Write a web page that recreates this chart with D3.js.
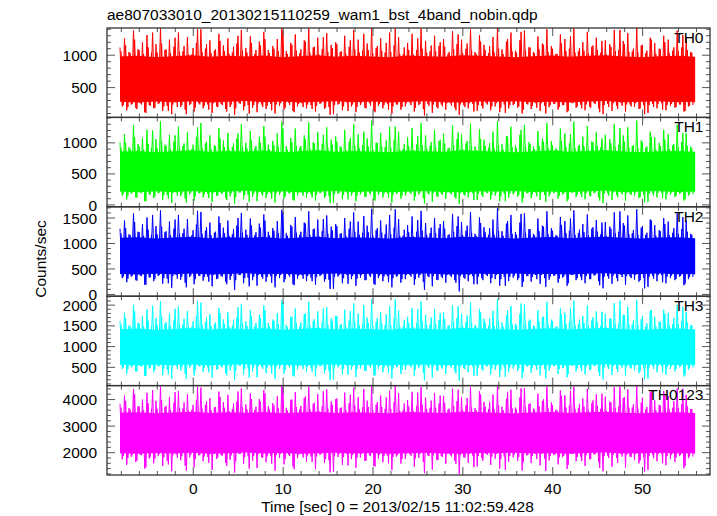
<!DOCTYPE html>
<html><head><meta charset="utf-8">
<script src="https://cdn.jsdelivr.net/npm/d3@7"></script>
<style>
html,body{margin:0;padding:0;background:#fff;}
svg text{font-family:"Liberation Sans",Arial,Helvetica,sans-serif;font-size:15.5px;fill:#000;}
</style></head>
<body>
<svg id="chart" width="717" height="516"></svg>
<script>
// ---- data ----
const title = "ae807033010_20130215110259_wam1_bst_4band_nobin.qdp";
const xLabel = "Time [sec] 0 = 2013/02/15 11:02:59.428";
const yLabel = "Counts/sec";
const bandNames = ["TH0", "TH1", "TH2", "TH3", "TH0123"];
const bandColors = ["#ff0000", "#00ff00", "#0000ff", "#00ffff", "#ff00ff"];
const timeStart = -8.15;   // sec, first bin
const timeStep = 0.25;     // sec between values of one sample set (set B is offset by half a step)
const coreStep = 2;        // sec per point of the dense-core envelope
const xDomain = [-9.6, 57.5];
const xMajorTicks = [0, 10, 20, 30, 40, 50];
const xMinorStep = 2;
const yDomains = [[40, 1420], [-30, 1410], [-35, 1720], [60, 2215], [1160, 4525]];
const yMajorTicks = [[500, 1000], [0, 500, 1000], [0, 500, 1000, 1500], [500, 1000, 1500, 2000], [2000, 3000, 4000]];
const yMinorSteps = [100, 100, 100, 100, 200];

// light-curve excursions (counts/sec), sample set A
const th0 = [
1120,210,1260,150,1050,240,1380,190,1090,260,1200,120,1310,230,1040,180,
1170,250,1420,140,1080,220,1240,90,1130,270,1350,200,1060,160,1280,230,
1010,130,1190,260,1400,180,1100,240,1230,110,1070,210,1330,250,1150,170,
1260,200,1040,80,1180,260,1390,150,1110,230,1290,190,1020,120,1210,240,
1360,170,1080,250,1140,100,1250,220,1420,160,1060,270,1190,140,1320,210,
1030,260,1230,180,1410,230,1120,130,1270,250,1090,170,1340,200,1160,90,
1200,240,1050,150,1300,270,1130,210,1390,120,1240,230,1070,190,1180,260,
1420,140,1110,220,1260,180,1040,250,1350,100,1150,240,1280,160,1010,210,
1190,270,1330,130,1080,230,1410,170,1220,250,1060,110,1300,200,1140,240,
1250,160,1020,260,1370,190,1170,80,1240,230,1100,180,1400,250,1050,140,
1310,220,1160,260,1030,150,1280,210,1420,120,1090,240,1210,180,1350,230,
1070,190,1230,100,1380,250,1120,170,1050,260,1290,140,1180,220,1400,200,
1140,250,1020,160,1320,230,1250,120,1100,270,1410,190,1060,240,1200,150,
1360,210,1130,260,1270,180,1040,90,1230,250,1170,140,1390,220,1080,260,
1220,130,1340,240,1060,200,1420,170,1150,230,1030,110,1270,250,1190,180,
1100,260,1300,150,1240,220,1070,190,1380,240,1120,130,1260,210,1050,230];
const th1 = [
1010,150,1140,90,930,180,1290,120,980,200,1080,60,1210,170,920,110,
1060,190,1350,80,970,160,1130,30,1020,200,1260,140,950,100,1170,170,
900,70,1090,190,1320,120,990,180,1120,50,960,150,1240,190,1040,110,
1160,140,930,20,1070,200,1300,90,1000,170,1190,130,910,60,1100,180,
1270,110,970,190,1030,40,1150,160,1340,100,950,200,1080,80,1230,150,
920,200,1120,120,1330,170,1010,70,1170,190,980,110,1250,140,1050,30,
1100,180,940,90,1210,200,1020,150,1300,60,1140,170,960,130,1070,190,
1360,80,1000,160,1160,120,930,190,1260,40,1040,180,1180,100,900,150,
1090,200,1240,70,970,170,1320,110,1120,190,950,50,1210,140,1030,180,
1150,100,910,190,1280,130,1060,20,1140,170,990,120,1310,190,940,80,
1220,160,1050,200,920,90,1180,150,1350,60,980,180,1110,120,1260,170,
960,130,1130,40,1290,190,1010,110,940,200,1190,80,1070,160,1320,140,
1030,190,910,100,1230,170,1150,60,990,200,1340,130,950,180,1100,90,
1270,150,1020,190,1170,120,930,30,1130,190,1060,80,1300,160,970,200,
1120,70,1250,180,950,140,1360,110,1040,170,920,50,1180,190,1090,120,
1000,200,1210,90,1140,160,960,130,1290,180,1010,70,1160,150,940,170];
const th2 = [
1290,320,1450,240,1180,350,1590,280,1230,370,1380,190,1510,330,1170,260,
1340,360,1650,210,1220,310,1430,130,1290,380,1560,290,1200,230,1480,340,
1160,200,1370,370,1620,270,1250,350,1410,160,1210,300,1530,360,1310,250,
1450,290,1180,90,1350,380,1600,220,1270,330,1490,280,1160,170,1390,350,
1570,250,1230,360,1300,140,1440,320,1660,240,1200,380,1360,200,1520,310,
1170,380,1410,260,1630,330,1280,190,1470,360,1240,250,1550,290,1330,110,
1380,350,1190,220,1500,380,1290,300,1610,170,1430,330,1210,280,1350,370,
1680,210,1260,320,1450,260,1180,360,1560,140,1310,350,1480,230,1150,300,
1360,380,1530,190,1230,330,1640,250,1400,360,1200,160,1500,290,1300,350,
1440,230,1160,370,1580,280,1340,60,1420,330,1250,260,1620,360,1190,200,
1510,320,1320,380,1170,220,1470,300,1690,170,1240,350,1390,260,1560,330,
1220,280,1410,150,1590,360,1280,250,1190,380,1490,210,1350,320,1630,290,
1300,370,1160,230,1520,330,1440,170,1250,380,1650,280,1200,350,1380,220,
1570,300,1290,370,1460,260,1180,120,1420,360,1330,210,1610,320,1230,380,
1400,190,1550,350,1200,290,1670,250,1310,330,1170,150,1470,370,1360,260,
1260,380,1500,220,1430,320,1210,280,1590,350,1280,180,1450,300,1190,340];
const th3 = [
1620,460,1820,350,1510,500,2010,400,1570,530,1740,290,1900,470,1500,380,
1690,520,2100,310,1550,450,1800,220,1640,540,1970,420,1530,340,1860,490,
1480,300,1730,530,2060,390,1590,500,1780,250,1540,440,1930,520,1650,360,
1830,420,1500,190,1700,540,2030,330,1610,480,1880,400,1490,260,1760,510,
1990,360,1570,520,1650,220,1810,460,2120,350,1530,540,1720,300,1920,450,
1490,540,1780,380,2080,480,1620,280,1850,520,1580,360,1950,420,1680,200,
1740,500,1520,330,1890,540,1630,440,2040,270,1800,470,1540,410,1700,530,
2140,310,1600,460,1830,380,1510,520,1980,230,1660,500,1870,340,1480,440,
1720,540,1930,290,1560,480,2090,370,1770,520,1530,250,1900,420,1640,500,
1820,340,1490,530,2000,410,1690,180,1790,480,1590,380,2070,520,1520,300,
1910,460,1670,540,1500,330,1860,440,2150,270,1580,500,1750,380,1980,470,
1550,410,1790,240,2020,520,1620,370,1510,540,1880,310,1710,460,2080,420,
1650,530,1480,340,1920,480,1820,260,1590,540,2110,400,1540,500,1740,330,
1990,440,1630,530,1850,380,1500,210,1790,520,1680,320,2050,460,1560,540,
1770,290,1960,500,1530,420,2130,360,1660,480,1490,230,1860,530,1720,380,
1600,540,1890,320,1810,460,1540,400,2010,500,1620,280,1830,440,1510,490];
const th0123 = [
3850,1750,4150,1550,3680,1850,4400,1650,3750,1920,4000,1400,4250,1780,3650,1600,
3950,1880,4500,1500,3720,1700,4100,1300,3880,1940,4320,1720,3660,1520,4200,1820,
3620,1450,3980,1900,4450,1680,3800,1850,4050,1350,3700,1760,4300,1910,3900,1620,
4180,1740,3640,1250,3920,1950,4420,1580,3820,1870,4230,1700,3610,1420,4020,1830,
4350,1640,3760,1900,3860,1320,4120,1800,4510,1560,3690,1930,3990,1480,4280,1790,
3630,1950,4060,1660,4480,1860,3840,1380,4210,1910,3740,1610,4380,1720,3930,1280,
4010,1840,3670,1540,4260,1950,3870,1760,4440,1430,4090,1820,3710,1690,3960,1900,
4520,1500,3810,1780,4150,1640,3650,1890,4330,1340,3900,1850,4240,1590,3600,1760,
3980,1940,4290,1470,3760,1810,4470,1650,4070,1900,3690,1360,4250,1720,3850,1870,
4140,1580,3620,1920,4410,1700,3940,1200,4100,1830,3780,1620,4460,1890,3680,1480,
4310,1800,3910,1950,3640,1540,4190,1770,4500,1400,3730,1860,4030,1660,4370,1820,
3700,1690,4080,1330,4430,1900,3830,1610,3660,1950,4220,1520,3950,1780,4490,1710,
3890,1920,3620,1560,4340,1830,4160,1390,3770,1950,4480,1680,3680,1860,4040,1500,
4400,1750,3860,1930,4200,1640,3650,1300,4110,1890,3920,1470,4470,1800,3740,1950,
4060,1440,4380,1850,3700,1720,4510,1600,3880,1830,3630,1350,4270,1910,3970,1680,
3800,1950,4320,1530,4140,1760,3690,1650,4420,1870,3820,1410,4180,1790,3640,1850];

// sample set B (between the set-A samples)
const th0b = [
1060,230,1150,200,1030,250,1240,170,1080,240,1020,110,1120,220,1350,190,
1040,260,1180,210,1090,140,1030,240,1270,200,1050,230,1140,90,1010,250,
1110,190,1400,240,1050,220,1170,160,1030,260,1090,200,1220,230,1060,130,
1020,240,1130,180,1300,250,1070,210,1040,100,1190,230,1080,260,1150,200,
1250,220,1030,150,1100,240,1060,260,1380,190,1020,230,1160,120,1070,250,
1090,200,1210,240,1040,170,1130,220,1010,260,1280,190,1050,80,1110,230,
1170,250,1060,210,1020,140,1230,240,1090,200,1040,260,1330,180,1080,220,
1030,120,1140,250,1070,230,1190,160,1050,210,1410,240,1020,200,1120,260,
1080,230,1010,190,1260,250,1100,70,1040,220,1150,240,1060,180,1200,210,
1130,260,1050,220,1090,150,1320,240,1030,200,1180,260,1070,130,1020,230,
1210,180,1080,240,1140,210,1040,260,1100,190,1020,110,1250,230,1060,250,
1040,210,1360,160,1070,240,1120,220,1030,190,1090,260,1160,100,1050,230,
1100,250,1020,200,1180,230,1060,140,1290,260,1040,210,1110,180,1070,240,
1030,190,1150,250,1080,120,1220,230,1010,200,1130,260,1060,170,1390,220,
1170,240,1050,210,1100,260,1040,180,1160,90,1070,230,1240,200,1020,250,
1090,160,1200,230,1030,250,1120,200,1060,240,1310,140,1080,220,1040,260];
const th1b = [
920,180,1000,150,900,200,1090,120,940,190,890,60,980,170,1200,140,
910,200,1030,160,950,100,900,190,1120,150,920,180,990,40,880,200,
970,140,1250,190,920,170,1020,110,900,200,950,150,1070,180,930,80,
890,190,990,130,1150,200,940,160,910,50,1040,180,950,200,1000,150,
1100,170,900,100,960,190,930,200,1230,140,890,180,1010,70,940,200,
950,150,1060,190,910,120,990,170,880,200,1130,140,920,30,970,180,
1020,200,930,160,890,90,1080,190,950,150,910,200,1180,130,940,170,
900,70,1000,200,940,180,1040,110,920,160,1260,190,890,150,980,200,
940,180,880,140,1110,200,960,20,910,170,1010,190,930,130,1050,160,
990,200,920,170,950,100,1170,190,900,150,1030,200,940,80,890,180,
1060,130,950,190,1000,160,910,200,960,140,890,60,1100,180,930,200,
910,160,1210,110,940,190,980,170,900,140,950,200,1020,50,920,180,
960,200,890,150,1030,180,930,90,1140,200,910,160,970,130,940,190,
900,140,1010,200,950,70,1070,180,880,150,990,200,930,120,1240,170,
1020,190,920,160,960,200,910,130,1010,40,940,180,1090,150,890,200,
950,110,1050,180,900,200,980,150,930,190,1160,90,950,170,910,200];
const th2b = [
1200,350,1300,310,1160,370,1420,270,1220,360,1150,190,1270,340,1560,300,
1180,380,1330,320,1240,220,1160,360,1470,310,1190,350,1290,140,1140,370,
1260,300,1640,360,1190,340,1320,250,1160,380,1230,310,1400,350,1200,200,
1150,360,1280,280,1500,380,1210,320,1170,160,1350,350,1220,380,1310,310,
1450,340,1160,230,1250,360,1200,380,1610,300,1150,350,1330,180,1210,370,
1230,310,1390,360,1170,260,1290,340,1140,380,1480,300,1190,110,1260,350,
1340,380,1200,320,1150,210,1430,360,1230,310,1170,380,1540,280,1220,340,
1160,190,1300,370,1210,350,1370,240,1180,320,1670,360,1150,300,1270,380,
1220,350,1140,300,1460,380,1250,90,1170,340,1310,360,1200,280,1380,320,
1290,380,1180,340,1230,230,1530,360,1160,310,1350,380,1210,200,1150,350,
1400,280,1220,360,1300,320,1170,380,1250,300,1150,170,1440,350,1190,370,
1170,320,1580,250,1210,360,1280,340,1160,300,1240,380,1330,150,1180,350,
1250,370,1150,310,1360,350,1200,220,1490,380,1170,320,1270,280,1220,360,
1160,300,1320,380,1230,180,1410,350,1140,310,1290,370,1200,260,1630,340,
1350,360,1180,320,1260,380,1170,280,1340,120,1210,350,1450,310,1150,380,
1240,240,1380,350,1160,370,1300,310,1190,360,1520,210,1230,340,1170,380];
const th3b = [
1540,500,1680,460,1490,530,1850,400,1560,520,1480,290,1630,490,1990,440,
1510,540,1720,470,1590,330,1490,520,1910,460,1530,500,1670,230,1470,530,
1610,440,2100,520,1520,490,1700,380,1490,540,1580,460,1810,500,1550,310,
1480,520,1650,410,1950,540,1560,470,1500,250,1740,500,1570,540,1690,460,
1880,490,1490,350,1620,520,1540,540,2060,440,1470,500,1720,280,1560,530,
1580,460,1800,520,1500,390,1660,490,1460,540,1920,440,1530,200,1620,500,
1740,540,1550,470,1480,320,1860,520,1590,460,1510,540,2000,410,1570,490,
1500,300,1690,530,1560,500,1780,360,1520,470,2140,520,1480,440,1640,540,
1570,500,1470,450,1900,540,1610,190,1510,490,1700,520,1550,420,1800,470,
1660,540,1520,490,1590,350,1970,520,1490,460,1750,540,1560,300,1480,500,
1830,420,1580,520,1680,470,1500,540,1620,440,1480,270,1880,500,1540,530,
1510,470,2040,380,1560,520,1650,490,1490,440,1600,540,1720,240,1530,500,
1620,530,1480,460,1770,500,1550,340,1940,540,1510,470,1640,410,1570,520,
1500,440,1710,540,1590,290,1840,500,1470,460,1670,530,1540,390,2110,490,
1760,520,1530,470,1630,540,1510,420,1740,210,1560,500,1890,460,1490,540,
1600,370,1790,500,1500,530,1690,460,1540,520,1960,320,1580,490,1520,540];
const th0123b = [
3700,1880,3950,1800,3620,1920,4200,1700,3740,1900,3600,1450,3860,1850,4350,1780,
3650,1950,3980,1830,3760,1560,3610,1900,4280,1810,3680,1870,3890,1330,3580,1930,
3800,1760,4480,1910,3660,1860,3930,1620,3600,1950,3720,1820,4100,1880,3690,1500,
3570,1900,3850,1680,4300,1950,3710,1840,3630,1400,4020,1880,3730,1950,3920,1810,
4230,1860,3620,1590,3780,1910,3670,1950,4450,1760,3590,1870,4000,1380,3710,1930,
3760,1820,4120,1900,3640,1650,3880,1860,3560,1950,4310,1760,3660,1260,3800,1880,
4040,1950,3700,1840,3600,1520,4180,1910,3770,1820,3630,1950,4400,1700,3720,1870,
3610,1480,3900,1930,3720,1880,4080,1600,3650,1840,4510,1910,3580,1760,3850,1950,
3740,1880,3570,1790,4260,1950,3800,1230,3640,1870,3960,1910,3690,1720,4150,1840,
3880,1950,3660,1860,3750,1580,4370,1910,3610,1810,4060,1950,3700,1460,3590,1880,
4190,1700,3730,1910,3910,1850,3640,1950,3780,1770,3600,1350,4290,1880,3680,1930,
3630,1840,4420,1640,3710,1910,3860,1880,3620,1760,3750,1950,4010,1310,3670,1880,
3790,1930,3590,1820,4140,1880,3700,1550,4330,1950,3650,1840,3840,1680,3730,1910,
3610,1760,3970,1950,3760,1420,4220,1880,3570,1800,3900,1930,3680,1620,4490,1860,
4090,1910,3690,1840,3820,1950,3650,1710,4070,1290,3720,1880,4340,1790,3600,1950,
3770,1600,4160,1880,3620,1930,3940,1820,3680,1910,4410,1500,3740,1860,3640,1950];

// dense core of each light curve (solidly filled band), every 2 s
const th0Low  = [280,270,285,275,290,270,280,295,275,285,270,280,290,275,285,270,280,290,275,270,285,280,290,275,280,270,285,295,275,280,290,275,280];
const th0High = [980,990,970,985,1000,975,990,980,995,970,985,1000,975,990,980,970,995,985,975,1000,990,980,970,985,995,975,990,1000,980,970,985,990,975];
const th1Low  = [215,205,220,210,225,205,215,230,210,220,205,215,225,210,220,205,215,225,210,205,220,215,225,210,215,205,220,230,210,215,225,210,215];
const th1High = [860,870,850,865,880,855,870,860,875,850,865,880,855,870,860,850,875,865,855,880,870,860,850,865,875,855,870,880,860,850,865,870,855];
const th2Low  = [400,390,405,395,410,390,400,415,395,405,390,400,410,395,405,390,400,410,395,390,405,400,410,395,400,390,405,415,395,400,410,395,400];
const th2High = [1110,1120,1100,1115,1130,1105,1120,1110,1125,1100,1115,1130,1105,1120,1110,1100,1125,1115,1105,1130,1120,1110,1100,1115,1125,1105,1120,1130,1110,1100,1115,1120,1105];
const th3Low  = [560,550,565,555,570,550,560,575,555,565,550,560,570,555,565,550,560,570,555,550,565,560,570,555,560,550,565,575,555,560,570,555,560];
const th3High = [1420,1435,1405,1425,1450,1415,1435,1420,1440,1405,1425,1450,1415,1435,1420,1405,1440,1425,1415,1450,1435,1420,1405,1425,1440,1415,1435,1450,1420,1405,1425,1435,1415];
const th0123Low  = [1980,1960,1990,1970,2000,1960,1980,2010,1970,1990,1960,1980,2000,1970,1990,1960,1980,2000,1970,1960,1990,1980,2000,1970,1980,1960,1990,2010,1970,1980,2000,1970,1980];
const th0123High = [3500,3520,3480,3510,3540,3490,3520,3500,3530,3480,3510,3540,3490,3520,3500,3480,3530,3510,3490,3540,3520,3500,3480,3510,3530,3490,3520,3540,3500,3480,3510,3520,3490];

const seriesA = [th0, th1, th2, th3, th0123];
const seriesB = [th0b, th1b, th2b, th3b, th0123b];
const coreLow = [th0Low, th1Low, th2Low, th3Low, th0123Low];
const coreHigh = [th0High, th1High, th2High, th3High, th0123High];

// ---- layout ----
const plotLeft = 107, plotRight = 710, plotTop = 28, plotBottom = 475;
const nP = seriesA.length;
const ph = (plotBottom - plotTop) / nP;
const svg = d3.select("#chart");
const x = d3.scaleLinear().domain(xDomain).range([plotLeft, plotRight]);
const frameColor = "#333";
const tickColor = "#555";

svg.append("text").attr("x", 107).attr("y", 20).text(title);

const xMinor = d3.range(-8, 57, xMinorStep).filter(v => !xMajorTicks.includes(v));

seriesA.forEach((vals, i) => {
  const pTop = plotTop + i * ph, pBot = pTop + ph;
  const y = d3.scaleLinear().domain(yDomains[i]).range([pBot, pTop]);
  const g = svg.append("g");
  const cid = "clip" + i;
  svg.append("clipPath").attr("id", cid).append("rect")
    .attr("x", plotLeft).attr("y", pTop).attr("width", plotRight - plotLeft).attr("height", ph);
  const dg = g.append("g").attr("clip-path", `url(#${cid})`);
  const core = d3.area()
    .x((d, j) => x(timeStart + j * coreStep))
    .y0((d, j) => y(coreLow[i][j]))
    .y1(d => y(d));
  dg.append("path").datum(coreHigh[i]).attr("d", core).attr("fill", bandColors[i]);
  [[vals, 0], [seriesB[i], timeStep / 2]].forEach(([arr, off]) => {
    const line = d3.line().x((d, j) => x(timeStart + off + j * timeStep)).y(d => y(d));
    dg.append("path").datum(arr)
      .attr("d", line).attr("fill", "none").attr("stroke", bandColors[i])
      .attr("stroke-width", 1).attr("stroke-linejoin", "miter");
  });

  // y ticks
  const [d0, d1] = yDomains[i];
  const step = yMinorSteps[i];
  const minor = d3.range(Math.ceil(d0 / step) * step, d1, step).filter(v => !yMajorTicks[i].includes(v));
  const tg = g.append("g").attr("stroke", tickColor).attr("stroke-width", 1);
  minor.forEach(v => {
    tg.append("line").attr("x1", plotLeft).attr("x2", plotLeft + 4).attr("y1", y(v)).attr("y2", y(v));
    tg.append("line").attr("x1", plotRight).attr("x2", plotRight - 4).attr("y1", y(v)).attr("y2", y(v));
  });
  yMajorTicks[i].forEach(v => {
    tg.append("line").attr("x1", plotLeft).attr("x2", plotLeft + 8).attr("y1", y(v)).attr("y2", y(v));
    tg.append("line").attr("x1", plotRight).attr("x2", plotRight - 8).attr("y1", y(v)).attr("y2", y(v));
    g.append("text").attr("x", 97).attr("y", y(v)).attr("dy", "0.36em")
      .attr("text-anchor", "end").text(v);
  });
  xMinor.forEach(v => {
    tg.append("line").attr("x1", x(v)).attr("x2", x(v)).attr("y1", pTop).attr("y2", pTop + 4);
    tg.append("line").attr("x1", x(v)).attr("x2", x(v)).attr("y1", pBot).attr("y2", pBot - 4);
  });
  xMajorTicks.forEach(v => {
    tg.append("line").attr("x1", x(v)).attr("x2", x(v)).attr("y1", pTop).attr("y2", pTop + 8);
    tg.append("line").attr("x1", x(v)).attr("x2", x(v)).attr("y1", pBot).attr("y2", pBot - 8);
  });
  g.append("rect").attr("x", plotLeft).attr("y", pTop).attr("width", plotRight - plotLeft)
    .attr("height", ph).attr("fill", "none").attr("stroke", frameColor).attr("stroke-width", 1.3);
  g.append("text").attr("x", 703.5).attr("y", pTop + 14.8).attr("text-anchor", "end").text(bandNames[i]);
});

xMajorTicks.forEach(v => {
  svg.append("text").attr("x", x(v)).attr("y", 494).attr("text-anchor", "middle").text(v);
});
svg.append("text").attr("x", 397.5).attr("y", 512).attr("text-anchor", "middle").text(xLabel);
svg.append("text").attr("transform", "translate(46,259) rotate(-90)").attr("text-anchor", "middle").text(yLabel);
</script>
</body></html>
